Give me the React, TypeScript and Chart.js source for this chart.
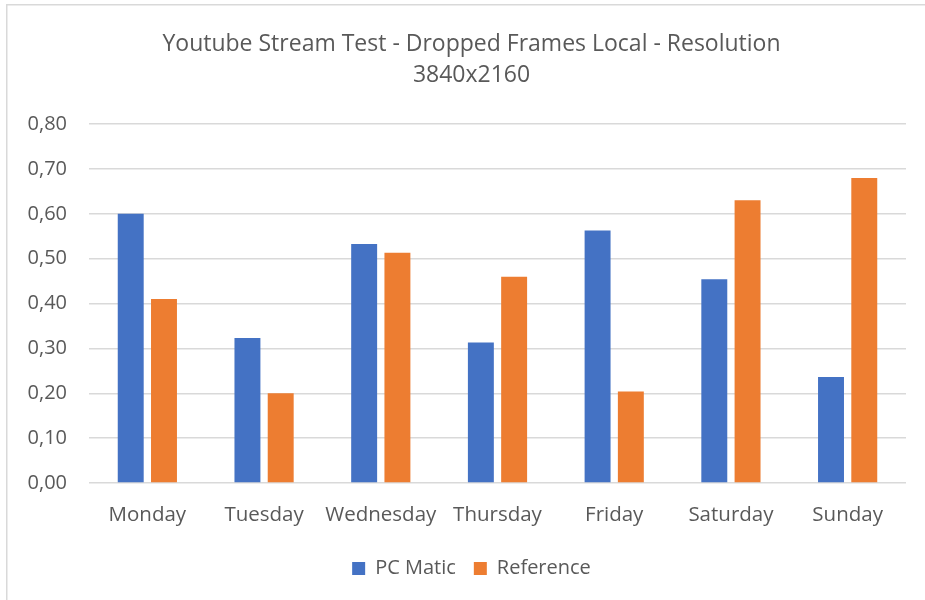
import React, { useEffect, useRef } from "react";
import { Chart, registerables } from "chart.js";

Chart.register(...registerables);

const categories = ["Monday", "Tuesday", "Wednesday", "Thursday", "Friday", "Saturday", "Sunday"];
const pcMatic = [0.6, 0.323, 0.533, 0.313, 0.563, 0.454, 0.236];
const reference = [0.41, 0.2, 0.513, 0.46, 0.204, 0.63, 0.68];
const titleLines = ["Youtube Stream Test - Dropped Frames Local - Resolution", "3840x2160"];
const seriesNames = ["PC Matic", "Reference"];

const FONT = "'Open Sans', 'DejaVu Sans', sans-serif";
const TEXT = "#595959";
const GRID = "#d9d9d9";

const borderPlugin = {
  id: "outerBorder",
  beforeDraw(chart: any) {
    const ctx = chart.ctx;
    ctx.save();
    ctx.fillStyle = "#ffffff";
    ctx.fillRect(0, 0, chart.width, chart.height);
    ctx.strokeStyle = GRID;
    ctx.lineWidth = 1.5;
    ctx.strokeRect(6.75, 4.75, chart.width + 20, chart.height + 20);
    ctx.restore();
  },
};

export default function App() {
  const ref = useRef<HTMLCanvasElement | null>(null);
  useEffect(() => {
    if (!ref.current) return;
    const chart = new Chart(ref.current, {
      type: "bar",
      data: {
        labels: categories,
        datasets: [
          {
            label: seriesNames[0],
            data: pcMatic,
            backgroundColor: "#4472C4",
            categoryPercentage: 0.57,
            barPercentage: 0.78,
          },
          {
            label: seriesNames[1],
            data: reference,
            backgroundColor: "#ED7D31",
            categoryPercentage: 0.57,
            barPercentage: 0.78,
          },
        ],
      },
      options: {
        responsive: false,
        animation: false,
        devicePixelRatio: 1,
        layout: { padding: { left: 7, right: 9, top: 5, bottom: 11.5 } },
        plugins: {
          tooltip: { enabled: false },
          title: {
            display: true,
            text: titleLines,
            color: TEXT,
            font: { family: FONT, size: 23, weight: "normal", lineHeight: 1.35 },
            padding: { top: 24, bottom: 33 },
          },
          legend: {
            display: true,
            position: "bottom",
            labels: {
              color: TEXT,
              font: { family: FONT, size: 20 },
              boxWidth: 13,
              boxHeight: 13,
              padding: 18,
            },
          },
        },
        scales: {
          x: {
            grid: { display: false, drawTicks: false },
            border: { display: false },
            ticks: { color: TEXT, font: { family: FONT, size: 20.5 }, padding: 20, maxRotation: 0 },
            afterFit: (s: any) => {
              s.height = 57.5;
            },
          },
          y: {
            min: 0,
            max: 0.8,
            grid: { color: GRID, lineWidth: 1.5, drawTicks: false },
            border: { display: false },
            ticks: {
              stepSize: 0.1,
              color: TEXT,
              font: { family: FONT, size: 20 },
              padding: 22,
              callback: (v: any) => Number(v).toFixed(2).replace(".", ","),
            },
            afterFit: (s: any) => {
              s.width = 82;
            },
          },
          yRight: {
            position: "right",
            display: true,
            grid: { display: false, drawTicks: false },
            border: { display: false },
            ticks: { display: false },
            afterFit: (s: any) => {
              s.width = 30;
            },
          },
        },
      },
      plugins: [borderPlugin],
    });
    return () => chart.destroy();
  }, []);
  return (
    <div style={{ position: "absolute", left: 0, top: 0, width: 925, height: 600, overflow: "hidden", background: "#fff" }}>
      <canvas ref={ref} width={945} height={600} style={{ width: 945, height: 600, display: "block" }} />
    </div>
  );
}
